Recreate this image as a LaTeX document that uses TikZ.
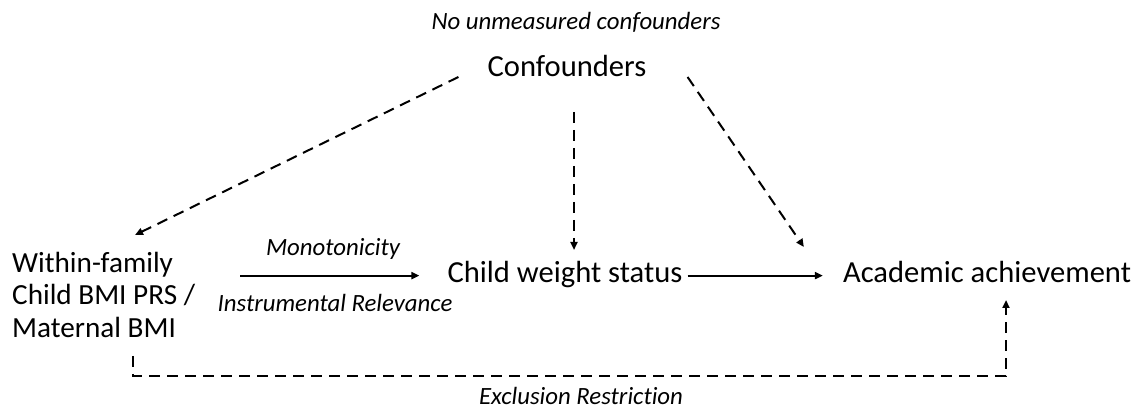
\documentclass[tikz,border=0pt]{standalone}
\usepackage{fontspec}
\setmainfont{Carlito}[Ligatures=NoCommon]
\usetikzlibrary{arrows.meta}

\begin{document}
\begin{tikzpicture}[
  x=1pt, y=-1pt,
  % Estilos de texto
  lbl/.style={font=\fontsize{30.6}{32.5}\selectfont, inner sep=0pt, anchor=base},
  ital/.style={font=\fontsize{24.8}{28}\selectfont\itshape, inner sep=0pt, anchor=base},
  % Estilos de flechas
  line/.style={draw, line width=2pt, -{Triangle[length=8pt,width=7pt]}},
  dashline/.style={line, dash pattern=on 11pt off 7pt}
]
  \useasboundingbox (0,0) rectangle (1135,411);

  % ==========================================
  % NODES
  % ==========================================
  \node[ital] (nuc) at (576,30) {No unmeasured confounders};
  \node[lbl] (conf) at (567,77) {Confounders};

  \node[lbl, font=\fontsize{29.2}{33}\selectfont, align=left, anchor=base west] (wf) at (12,338) {Within-family\\Child BMI PRS /\\Maternal BMI};
  \node[lbl] (cws) at (565,283) {Child weight status};
  \node[lbl] (acad) at (987,283) {Academic achievement};

  \node[ital] (mono) at (333,256) {Monotonicity};
  \node[ital] (ir) at (335,312) {Instrumental Relevance};
  \node[ital] (er) at (581,404) {Exclusion Restriction};

  % ==========================================
  % CAUSAL PATH
  % ==========================================
  \coordinate (lvl) at ([yshift=5pt]cws.mid west);
  \draw[line, shorten <=45pt, shorten >=28pt] (wf.east |- lvl) -- (lvl);
  \draw[line, shorten <=5pt, shorten >=20pt] (cws.east |- lvl) -- (acad.west |- lvl);

  % ==========================================
  % CONFOUNDING PATHS
  % ==========================================
  \draw[dashline] ([xshift=-29pt]conf.base west) -- ([shift={(123,-103)}]wf.base west);
  \draw[dashline] ([shift={(7,35)}]conf.base) -- ([shift={(9,-33)}]cws.base);
  \draw[dashline] ([xshift=41pt]conf.base east) -- ([shift={(-39,-36)}]acad.base west);

  % Exclusion restriction
  \draw[dashline] ([shift={(121,18)}]wf.base west) -- ++(0,20) -| ([shift={(19,17)}]acad.base);

\end{tikzpicture}
\end{document}
